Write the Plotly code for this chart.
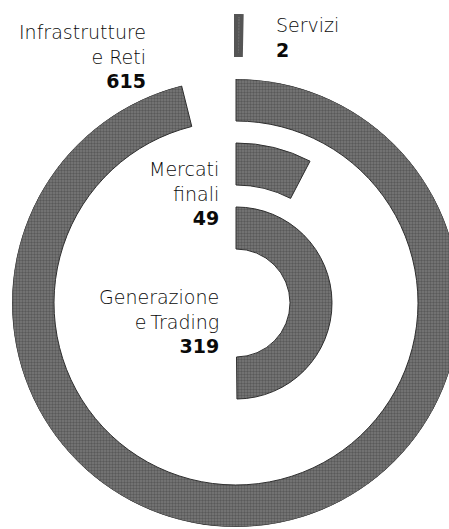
import plotly.graph_objects as go

# data, inner ring first
segments = ["Generazione<br>e\u2009Trading", "Mercati<br>finali", "Infrastrutture<br>e Reti", "Servizi"]
values = [319, 49, 615, 2]
full_circle = 640  # value that would close a whole ring

W, H = 470, 529          # a bit wider than the window: the outer ring is cut on the right
cx, cy = 236, 303        # ring centre in px
ring_w = 42
bases = [54, 118, 182, 247]

deg = [v * 360 / full_circle for v in values]
fill = "#6a6a6a"
pattern = dict(shape=".", fgcolor="#383838", bgcolor="#7a7a7a", size=3, solidity=0.5)

fig = go.Figure()
fig.add_trace(go.Barpolar(
    r=[ring_w] * 3, base=bases[:3],
    theta=[d / 2 for d in deg[:3]], width=deg[:3],
    marker=dict(color=fill, pattern=pattern, line=dict(color="#2e2e2e", width=1)),
    subplot="polar", hoverinfo="skip", showlegend=False,
))
fig.add_trace(go.Barpolar(
    r=[ring_w - 2], base=[bases[3] + 1],
    theta=[deg[3] / 2], width=[deg[3]],
    marker=dict(color=fill, pattern=pattern, line=dict(color="#555555", width=4)),
    subplot="polar2", hoverinfo="skip", showlegend=False,
))

ang = dict(visible=False, direction="clockwise", rotation=90, showgrid=False)
fig.update_layout(
    width=W, height=H, margin=dict(l=0, r=0, t=0, b=0),
    paper_bgcolor="white", plot_bgcolor="white",
    polar=dict(
        domain=dict(x=[(cx - 224) / W, (cx + 224) / W], y=[1 - (cy + 224) / H, 1 - (cy - 224) / H]),
        radialaxis=dict(visible=False, range=[0, 224], showgrid=False),
        angularaxis=ang, bgcolor="rgba(0,0,0,0)",
    ),
    polar2=dict(
        sector=[80, 100],
        domain=dict(x=[(cx - 60) / W, (cx + 60) / W], y=[1 - cy / H, 1 - (cy - 289) / H]),
        radialaxis=dict(visible=False, range=[0, 289], showgrid=False),
        angularaxis=ang, bgcolor="rgba(0,0,0,0)",
    ),
)

font = dict(family="DejaVu Sans, Liberation Sans, sans-serif", size=19, color="#0a0a0a", weight=200)
# (text x px, text y px centre, anchor)
spots = [(221, 321, "right"), (221, 194, "right"), (148, 56, "right"), (274, 37, "left")]
for name, v, (x, y, side) in zip(segments, values, spots):
    fig.add_annotation(
        x=x / W, y=1 - y / H, xref="paper", yref="paper",
        xanchor=side, yanchor="middle", align=side, showarrow=False,
        text=f"{name}<br><b>{v}</b>", font=font,
    )

fig.write_html(
    "out.html",
    config={"displayModeBar": False},
    post_script="document.body.style.margin='0';document.body.style.overflow='hidden';",
)
